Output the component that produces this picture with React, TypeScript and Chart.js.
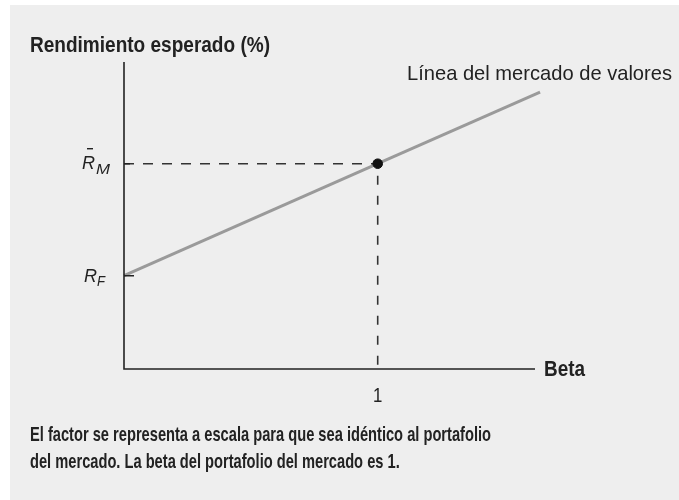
import React, { useEffect, useRef } from "react";
import { Chart, registerables } from "chart.js";

Chart.register(...registerables);

// ---- data ----
const riskFree = 5; // R_F (%)
const marketReturn = 11; // R̄_M (%)
const marketBeta = 1;
const smlBetas = [0, 1, 1.64];
const smlReturns = smlBetas.map((b) => riskFree + (marketReturn - riskFree) * b);
const xTickLabels = ["1"];
const yAxisTitle = "Rendimiento esperado (%)";
const xAxisTitle = "Beta";
const smlLabel = "Línea del mercado de valores";
const captionLines = [
  "El factor se representa a escala para que sea idéntico al portafolio",
  "del mercado. La beta del portafolio del mercado es 1.",
];

const COND = '"Liberation Sans Narrow", "Arial Narrow", "Liberation Sans", Arial, sans-serif';
const SANS = '"Liberation Sans", Arial, sans-serif';

function drawFit(
  ctx: CanvasRenderingContext2D,
  text: string,
  x: number,
  y: number,
  font: string,
  targetW: number | null,
  align: "left" | "right" | "center",
  sxOverride?: number
): number {
  ctx.font = font;
  const w = ctx.measureText(text).width;
  const sx = sxOverride ?? (targetW ? targetW / w : 1);
  ctx.save();
  ctx.translate(x, y);
  ctx.scale(sx, 1);
  ctx.textAlign = "left";
  ctx.textBaseline = "alphabetic";
  const off = align === "right" ? -w : align === "center" ? -w / 2 : 0;
  ctx.fillText(text, off, 0);
  ctx.restore();
  return sx;
}

const decorPlugin = {
  id: "decor",
  beforeDraw(chart: any) {
    const ctx = chart.ctx as CanvasRenderingContext2D;
    ctx.save();
    ctx.fillStyle = "#ffffff";
    ctx.fillRect(0, 0, chart.width, chart.height);
    ctx.fillStyle = "#eeeeee";
    ctx.fillRect(10, 5, chart.width - 10, chart.height - 5);
    ctx.restore();
  },
  afterDatasetsDraw(chart: any) {
    const ctx = chart.ctx as CanvasRenderingContext2D;
    const xs = chart.scales.x;
    const ys = chart.scales.y;
    const a = chart.chartArea;
    ctx.save();
    // axes
    ctx.strokeStyle = "#222222";
    ctx.lineWidth = 1.6;
    ctx.beginPath();
    ctx.moveTo(a.left, a.top);
    ctx.lineTo(a.left, a.bottom);
    ctx.lineTo(a.right, a.bottom);
    ctx.stroke();
    // y ticks
    const yF = ys.getPixelForValue(riskFree);
    const yM = ys.getPixelForValue(marketReturn);
    ctx.beginPath();
    ctx.moveTo(a.left, yF);
    ctx.lineTo(a.left + 10, yF);
    ctx.moveTo(a.left, yM);
    ctx.lineTo(a.left + 6, yM);
    ctx.stroke();

    ctx.fillStyle = "#222222";
    // y axis title
    drawFit(ctx, yAxisTitle, 30, 52, `bold 22px ${COND}`, 240, "left");
    // x axis title
    drawFit(ctx, xAxisTitle, a.right + 9, a.bottom + 7, `bold 22px ${COND}`, 41, "left");
    // x tick label
    const x1 = xs.getPixelForValue(marketBeta);
    drawFit(ctx, xTickLabels[0], x1, a.bottom + 33, `21px ${COND}`, null, "center", 0.8);
    // SML label
    drawFit(ctx, smlLabel, 672, 80, `21px ${COND}`, 265, "right");
    // R_M label
    drawFit(ctx, "R", 82, yM + 5, `italic 19px ${SANS}`, 13, "left");
    drawFit(ctx, "M", 96, yM + 10, `italic 15px ${SANS}`, 14, "left");
    ctx.strokeStyle = "#222222";
    ctx.lineWidth = 1.4;
    ctx.beginPath();
    ctx.moveTo(87, yM - 15);
    ctx.lineTo(93, yM - 15);
    ctx.stroke();
    // R_F label
    drawFit(ctx, "R", 84, yF + 6, `italic 19px ${SANS}`, 13, "left");
    drawFit(ctx, "F", 97, yF + 10, `italic 15px ${SANS}`, 8, "left");
    // caption
    const sx = drawFit(ctx, captionLines[0], 30, 441, `bold 21px ${COND}`, 461, "left");
    drawFit(ctx, captionLines[1], 30, 468, `bold 21px ${COND}`, null, "left", sx);
    ctx.restore();
  },
};

export default function App() {
  const ref = useRef<HTMLCanvasElement | null>(null);
  useEffect(() => {
    if (!ref.current) return;
    const chart = new Chart(ref.current, {
      type: "scatter",
      data: {
        datasets: [
          {
            label: "SML",
            data: smlBetas.map((b, i) => ({ x: b, y: smlReturns[i] })),
            showLine: true,
            borderColor: "#9a9a9a",
            borderWidth: 3,
            pointRadius: 0,
            clip: false as any,
            order: 3,
          },
          {
            label: "hdash",
            data: [
              { x: 0, y: marketReturn },
              { x: marketBeta, y: marketReturn },
            ],
            showLine: true,
            borderColor: "#333333",
            borderWidth: 1.6,
            borderDash: [10, 9],
            pointRadius: 0,
            order: 2,
          },
          {
            label: "vdash",
            data: [
              { x: marketBeta, y: marketReturn },
              { x: marketBeta, y: 0 },
            ],
            showLine: true,
            borderColor: "#333333",
            borderWidth: 1.6,
            borderDash: [9, 11],
            borderDashOffset: 8,
            pointRadius: 0,
            order: 2,
          },
          {
            label: "market",
            data: [{ x: marketBeta, y: marketReturn }],
            pointRadius: 4.8,
            pointBackgroundColor: "#111111",
            pointBorderColor: "#111111",
            order: 1,
          },
        ],
      },
      options: {
        animation: false,
        responsive: false,
        devicePixelRatio: 1,
        layout: { padding: { left: 124, right: 144, top: 62, bottom: 131 } },
        plugins: { legend: { display: false }, tooltip: { enabled: false } },
        scales: {
          x: { type: "linear", min: 0, max: 1.62, display: false },
          y: { type: "linear", min: 0, max: 16.45, display: false },
        },
      },
      plugins: [decorPlugin],
    });
    return () => chart.destroy();
  }, []);
  return (
    <div style={{ position: "absolute", left: 0, top: 0 }}>
      <canvas ref={ref} width={679} height={500} style={{ display: "block", width: 679, height: 500 }} />
    </div>
  );
}
